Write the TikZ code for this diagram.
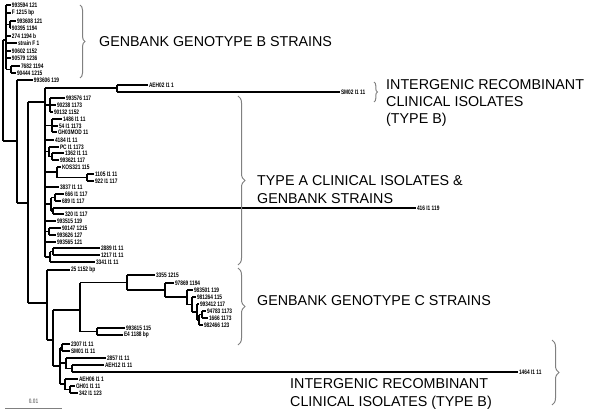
\documentclass[tikz,border=0pt]{standalone}
\usepackage{fontspec}
\setmainfont{Liberation Sans}
\newfontfamily\labfont[FakeStretch=0.74]{Liberation Sans Bold}
\usetikzlibrary{decorations.pathreplacing}
\newcommand\lf[5]{\node[lab] (#1) at (#3,#4) {#5}; \draw[br] (#2,#4) -- (#1.west);}
\newcommand\vl[3]{\draw[br] (#1,#2) -- (#1,#3);}
\newcommand\hl[3]{\draw[br] (#1,#3) -- (#2,#3);}
\begin{document}
\begin{tikzpicture}[x=1pt,y=-1pt,
 br/.style={line width=1.2pt},
 lab/.style={font=\labfont\fontsize{6.5}{7}\selectfont, anchor=west, inner sep=0.8pt},
 big/.style={font=\fontsize{14.3}{17}\selectfont, anchor=base west, inner sep=0pt},
 brc/.style={draw=gray, line width=1pt, decorate, decoration={brace, amplitude=#1}}]
\useasboundingbox (0,0) rectangle (600,420);
% ---- genotype B cluster
\vl{6}{5}{69.5}
\lf{b1}{6}{11}{5}{993594 121}
\lf{b2}{6}{11}{13}{F 1215 bp}
\hl{6}{10}{24.5} \vl{10}{21}{28}
\lf{b3}{10}{16}{21}{993608 121}
\lf{b4}{10}{11}{28}{90395 1194}
\lf{b5}{6}{11}{36}{274 1194 b}
\lf{b6}{6}{17}{43}{strain F 1}
\lf{b7}{6}{11}{51}{90602 1152}
\lf{b8}{6}{11}{58}{90579 1236}
\hl{6}{11}{69.5} \vl{11}{66}{73}
\lf{b9}{11}{20}{66}{7682 1194}
\lf{b10}{11}{16}{73}{90444 1215}
% ---- backbone
\vl{3}{40}{141} \hl{3}{6}{40} \hl{3}{17}{141}
\vl{17}{80}{203}
\lf{b11}{17}{33}{80}{993606 119}
\hl{17}{28}{203} \vl{28}{102}{303}
\hl{28}{45}{102} \hl{28}{47}{303}
% ---- type A block
\vl{45}{88}{257}
\hl{45}{117}{88} \vl{117}{85}{92}
\lf{a1}{117}{148}{85}{AEH02 I1 1}
\lf{a2}{117}{340}{92}{SM02 I1 11}
\hl{45}{50}{105} \vl{50}{98}{112}
\lf{a3}{50}{65}{98}{993576 117}
\lf{a4}{50}{56}{105}{90238 1173}
\lf{a5}{50}{53}{112}{90132 1152}
\hl{45}{52}{125.5} \vl{52}{119}{132}
\lf{a6}{52}{62}{119}{1486 I1 11}
\lf{a7}{52}{58}{126}{54 I1 1173}
\lf{a8}{52}{57}{132}{GH03MOD 11}
\lf{a9}{45}{54}{140}{4184 I1 11}
\hl{45}{49}{151.75} \vl{49}{147}{156.5}
\lf{a10}{49}{59}{147}{PC I1 1173}
\hl{49}{52}{156.5} \vl{52}{153}{160}
\lf{a11}{52}{64}{153}{1362 I1 11}
\lf{a12}{52}{59}{160}{993621 117}
\hl{45}{57}{172} \vl{57}{167}{177.5}
\lf{a13}{57}{61}{167}{KOS321 115}
\hl{57}{87}{177.5} \vl{87}{174}{181}
\lf{a14}{87}{94}{174}{1105 I1 11}
\lf{a15}{87}{94}{181}{922 I1 117}
\lf{a16}{45}{59}{187}{3837 I1 11}
\hl{45}{51}{204} \vl{51}{197.5}{211}
\hl{51}{55}{197.5} \vl{55}{194}{201}
\lf{a17}{55}{64}{194}{666 I1 117}
\lf{a18}{55}{61}{201}{689 I1 117}
\hl{51}{53}{211} \vl{53}{208}{214}
\lf{a19}{53}{416}{208}{416 I1 119}
\lf{a20}{53}{64}{214}{320 I1 117}
\lf{a21}{45}{56}{221}{993515 119}
\hl{45}{49}{231.5} \vl{49}{228}{235}
\lf{a22}{49}{61}{228}{90147 1215}
\lf{a23}{49}{56}{235}{993626 127}
\lf{a24}{45}{56}{242}{993565 121}
\hl{45}{50}{257} \vl{50}{251.5}{262}
\hl{50}{53}{251.5} \vl{53}{248}{255}
\lf{a25}{53}{100}{248}{2889 I1 11}
\lf{a26}{53}{100}{255}{1217 I1 11}
\lf{a27}{50}{95}{262}{3341 I1 11}
% ---- lower block
\vl{47}{270}{340}
\lf{c0}{47}{70}{270}{25 1152 bp}
\hl{47}{53}{340} \vl{53}{310}{366}
\hl{53}{80}{310} \vl{80}{282.5}{331.5}
\hl{80}{97}{331.5} \vl{97}{328}{335}
\lf{c1}{97}{125}{328}{993615 115}
\lf{c2}{97}{123}{335}{E4 1188 bp}
\hl{80}{127}{282.5} \vl{127}{275}{290}
\lf{c3}{127}{155}{275}{3355 1215}
\hl{127}{165}{290} \vl{165}{283}{297}
\lf{c4}{165}{174}{283}{97869 1194}
\hl{165}{187}{297} \vl{187}{290}{304.5}
\lf{c5}{187}{193}{290}{983501 119}
\hl{187}{192}{304.5} \vl{192}{297}{312}
\lf{c6}{192}{196}{297}{981264 115}
\hl{192}{197}{312} \vl{197}{304}{320}
\lf{c7}{197}{199}{304}{993412 117}
\hl{197}{199}{320} \vl{199}{314.5}{325}
\lf{c8}{199}{203}{325}{982466 123}
\hl{199}{202}{314.5} \vl{202}{311}{318}
\lf{c9}{202}{206}{311}{94783 1173}
\lf{c10}{202}{208}{318}{1666 1173}
% ---- recombinant group
\hl{53}{60}{366} \vl{60}{347.5}{384}
\hl{60}{62}{347.5} \vl{62}{344}{351}
\lf{r1}{62}{70}{344}{2307 I1 11}
\lf{r2}{62}{70}{351}{SM01 I1 11}
\hl{60}{66}{363} \vl{66}{358}{368.5}
\lf{r3}{66}{106}{358}{2857 I1 11}
\hl{66}{72}{368.5} \vl{72}{365}{372}
\lf{r4}{72}{104}{365}{AEH12 I1 11}
\lf{r5}{72}{518}{372}{1464 I1 11}
\hl{60}{65}{384} \vl{65}{379}{389.5}
\lf{r6}{65}{78}{379}{AEH06 I1 1}
\hl{65}{70}{389.5} \vl{70}{386}{393}
\lf{r7}{70}{75}{386}{GH01 I1 11}
\lf{r8}{70}{78}{393}{342 I1 123}
% ---- scale bar
\coordinate (s0) at (5,408); \coordinate (s1) at (62,408);
\draw[line width=1pt, draw=gray] (s0) -- (s1);
\node[lab, anchor=south, text=gray] (sc) at (33.5,405) {0.01};
% ---- braces and group labels
\draw[brc=5pt] (80,5) -- (80,78);
\node[big] (tB) at (99,47) {GENBANK GENOTYPE B STRAINS};
\draw[brc=3.5pt] (374,82) -- (374,102);
\node[big] (tR1) at (386,89) {INTERGENIC RECOMBINANT};
\node[big] (tR2) at (386,106.5) {CLINICAL ISOLATES};
\node[big] (tR3) at (386,124) {(TYPE B)};
\draw[brc=7pt] (238,96) -- (238,265);
\node[big] (tA1) at (257,185) {TYPE A CLINICAL ISOLATES \&};
\node[big] (tA2) at (257,203) {GENBANK STRAINS};
\draw[brc=7pt] (238,268) -- (238,345);
\node[big] (tC) at (257,305) {GENBANK GENOTYPE C STRAINS};
\draw[brc=7pt] (552,340) -- (552,405);
\node[big] (tR4) at (290,388) {INTERGENIC RECOMBINANT};
\node[big] (tR5) at (290,406) {CLINICAL ISOLATES (TYPE B)};
\end{tikzpicture}
\end{document}
